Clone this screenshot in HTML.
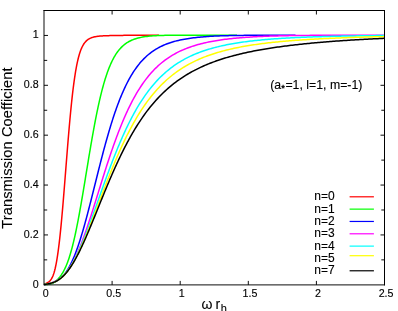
<!DOCTYPE html>
<html><head><meta charset="utf-8"><title>Transmission Coefficient</title>
<style>
html,body{margin:0;padding:0;background:#fff;}
body{width:398px;height:311px;overflow:hidden;font-family:"Liberation Sans",sans-serif;}
svg{display:block;}
text{font-family:"Liberation Sans",sans-serif;fill:#000;stroke:#000;stroke-width:0.12px;}
</style></head><body>
<svg width="398" height="311" viewBox="0 0 398 311" style="will-change:transform">
<rect width="398" height="311" fill="#fff"/>
<path d="M44.0,259.86h3.2M384.5,259.86h-3.2M44.0,234.93h4.0M384.5,234.93h-4.0M44.0,209.99h3.2M384.5,209.99h-3.2M44.0,185.06h4.0M384.5,185.06h-4.0M44.0,160.12h3.2M384.5,160.12h-3.2M44.0,135.18h4.0M384.5,135.18h-4.0M44.0,110.25h3.2M384.5,110.25h-3.2M44.0,85.31h4.0M384.5,85.31h-4.0M44.0,60.38h3.2M384.5,60.38h-3.2M44.0,35.44h4.0M112.10,284.9v-4.0M112.10,10.5v4.0M180.20,284.9v-4.0M180.20,10.5v4.0M248.30,284.9v-4.0M248.30,10.5v4.0M316.40,284.9v-4.0M316.40,10.5v4.0" stroke="#000" stroke-width="0.95" fill="none"/>
<g>
<polyline points="44.1,284.50 44.6,284.23 45.1,283.95 45.6,283.67 46.1,283.38 46.6,283.10 47.1,282.81 47.6,282.53 48.1,282.25 48.6,281.94 49.1,281.59 49.6,281.18 50.1,280.69 50.6,280.11 51.1,279.43 51.6,278.64 52.1,277.71 52.6,276.65 53.1,275.44 53.6,274.05 54.1,272.48 54.6,270.71 55.1,268.72 55.6,266.51 56.1,264.07 56.6,261.37 57.1,258.42 57.6,255.19 58.1,251.70 58.6,247.94 59.1,243.90 59.6,239.59 60.1,235.02 60.6,230.18 61.1,225.11 61.6,219.80 62.1,214.28 62.6,208.57 63.1,202.69 63.6,196.66 64.1,190.52 64.6,184.28 65.1,177.98 65.6,171.64 66.1,165.30 66.6,158.98 67.1,152.70 67.6,146.51 68.1,140.42 68.6,134.45 69.1,128.62 69.6,122.97 70.1,117.49 70.6,112.20 71.1,107.12 71.6,102.26 72.1,97.62 72.6,93.20 73.1,89.02 73.6,85.06 74.1,81.32 74.6,77.82 75.1,74.53 75.6,71.45 76.1,68.58 76.6,65.90 77.1,63.42 77.6,61.12 78.1,58.99 78.6,57.02 79.1,55.21 79.6,53.53 80.1,52.00 80.6,50.59 81.1,49.29 81.6,48.11 82.1,47.02 82.6,46.03 83.1,45.12 83.6,44.29 84.1,43.54 84.6,42.85 85.1,42.22 85.6,41.65 86.1,41.12 86.6,40.65 87.1,40.21 87.6,39.82 88.1,39.46 88.6,39.13 89.1,38.83 89.6,38.55 90.1,38.30 90.6,38.08 91.1,37.87 91.6,37.68 92.1,37.50 92.6,37.35 93.1,37.20 93.6,37.07 94.1,36.95 94.6,36.83 95.1,36.73 95.6,36.64 96.1,36.55 96.6,36.47 97.1,36.40 97.6,36.33 98.1,36.27 98.6,36.21 99.1,36.16 99.6,36.11 100.1,36.07 100.6,36.03 101.1,35.99 101.6,35.95 102.1,35.92 102.6,35.89 103.1,35.86 103.6,35.83 104.1,35.81 104.6,35.79 105.1,35.77 105.6,35.75 106.1,35.73 106.6,35.71 107.1,35.69 107.6,35.68 108.1,35.66 108.6,35.65 109.1,35.63 109.6,35.62 110.1,35.61 110.6,35.59 111.1,35.58 111.6,35.57 112.1,35.56 112.6,35.55 113.1,35.53 113.6,35.52 114.1,35.51 114.6,35.50 115.1,35.49 115.6,35.49 116.1,35.48 116.6,35.47 117.1,35.46 117.6,35.45 118.1,35.44 118.6,35.44 119.1,35.43 119.6,35.42 120.1,35.41 120.6,35.41 121.1,35.40 121.6,35.40 122.1,35.39 122.6,35.38 123.1,35.38 123.6,35.37 124.1,35.37 124.6,35.36 125.1,35.36 125.6,35.35 126.1,35.35 126.6,35.34 127.1,35.34 127.6,35.34 128.1,35.33 128.6,35.33 129.1,35.32 129.6,35.32 130.1,35.32 130.6,35.31 131.1,35.31 131.6,35.31 132.1,35.30 132.6,35.30 133.1,35.30 133.6,35.29 134.1,35.29 134.6,35.29 135.0,35.29 136.5,35.28 138.0,35.27 139.5,35.27 141.0,35.26 142.5,35.26 144.0,35.25 145.5,35.25 147.0,35.24 148.5,35.24 150.0,35.24 151.5,35.23 153.0,35.23 154.5,35.23 156.0,35.23 157.5,35.22 159.0,35.22" fill="none" stroke="#ff0000" stroke-width="1.5" stroke-linejoin="round" stroke-linecap="butt"/>
<polyline points="44.1,284.50 44.6,284.50 45.1,284.50 45.6,284.49 46.1,284.49 46.6,284.47 47.1,284.45 47.6,284.42 48.1,284.38 48.6,284.32 49.1,284.26 49.6,284.17 50.1,284.07 50.6,283.95 51.1,283.81 51.6,283.65 52.1,283.46 52.6,283.25 53.1,283.01 53.6,282.73 54.1,282.43 54.6,282.10 55.1,281.73 55.6,281.32 56.1,280.88 56.6,280.41 57.1,279.92 57.6,279.42 58.1,278.89 58.6,278.35 59.1,277.77 59.6,277.17 60.1,276.54 60.6,275.88 61.1,275.19 61.6,274.46 62.1,273.69 62.6,272.89 63.1,272.04 63.6,271.15 64.1,270.21 64.6,269.22 65.1,268.18 65.6,267.10 66.1,265.96 66.6,264.76 67.1,263.51 67.6,262.20 68.1,260.83 68.6,259.40 69.1,257.91 69.6,256.35 70.1,254.74 70.6,253.06 71.1,251.31 71.6,249.50 72.1,247.63 72.6,245.69 73.1,243.69 73.6,241.62 74.1,239.50 74.6,237.30 75.1,235.05 75.6,232.74 76.1,230.37 76.6,227.94 77.1,225.45 77.6,222.91 78.1,220.32 78.6,217.68 79.1,214.99 79.6,212.25 80.1,209.48 80.6,206.66 81.1,203.81 81.6,200.92 82.1,198.00 82.6,195.05 83.1,192.08 83.6,189.09 84.1,186.08 84.6,183.06 85.1,180.03 85.6,176.98 86.1,173.94 86.6,170.89 87.1,167.84 87.6,164.80 88.1,161.77 88.6,158.74 89.1,155.74 89.6,152.75 90.1,149.78 90.6,146.83 91.1,143.91 91.6,141.02 92.1,138.16 92.6,135.34 93.1,132.54 93.6,129.79 94.1,127.07 94.6,124.40 95.1,121.76 95.6,119.17 96.1,116.63 96.6,114.13 97.1,111.68 97.6,109.28 98.1,106.93 98.6,104.62 99.1,102.37 99.6,100.17 100.1,98.02 100.6,95.92 101.1,93.87 101.6,91.88 102.1,89.93 102.6,88.04 103.1,86.19 103.6,84.40 104.1,82.66 104.6,80.97 105.1,79.32 105.6,77.73 106.1,76.18 106.6,74.68 107.1,73.22 107.6,71.82 108.1,70.45 108.6,69.13 109.1,67.85 109.6,66.62 110.1,65.42 110.6,64.27 111.1,63.15 111.6,62.08 112.1,61.04 112.6,60.03 113.1,59.06 113.6,58.13 114.1,57.23 114.6,56.36 115.1,55.52 115.6,54.72 116.1,53.94 116.6,53.19 117.1,52.47 117.6,51.78 118.1,51.11 118.6,50.47 119.1,49.85 119.6,49.26 120.1,48.68 120.6,48.13 121.1,47.61 121.6,47.10 122.1,46.61 122.6,46.14 123.1,45.69 123.6,45.25 124.1,44.84 124.6,44.44 125.1,44.05 125.6,43.68 126.1,43.33 126.6,42.99 127.1,42.66 127.6,42.35 128.1,42.05 128.6,41.76 129.1,41.48 129.6,41.21 130.1,40.96 130.6,40.71 131.1,40.47 131.6,40.25 132.1,40.03 132.6,39.82 133.1,39.62 133.6,39.43 134.1,39.25 134.6,39.07 135.0,38.94 136.5,38.46 138.0,38.05 139.5,37.68 141.0,37.36 142.5,37.07 144.0,36.82 145.5,36.60 147.0,36.41 148.5,36.24 150.0,36.10 151.5,35.97 153.0,35.85 154.5,35.76 156.0,35.67 157.5,35.60 159.0,35.54 160.5,35.48 162.0,35.44 163.5,35.40 165.0,35.37 166.5,35.34 168.0,35.32 169.5,35.30 171.0,35.28 172.5,35.27 174.0,35.25 175.5,35.24 177.0,35.24 178.5,35.23 180.0,35.22 181.5,35.22 183.0,35.22 184.5,35.21 186.0,35.21 187.5,35.21 189.0,35.21 190.5,35.21 192.0,35.20 193.5,35.20 195.0,35.20 196.5,35.20 198.0,35.20 199.5,35.20 201.0,35.20 202.5,35.20 204.0,35.20 205.5,35.20 207.0,35.20 208.5,35.20 210.0,35.20 211.5,35.20 213.0,35.20 214.5,35.20 216.0,35.20 217.5,35.20 219.0,35.20 220.5,35.20 222.0,35.20 223.5,35.20 225.0,35.20 226.5,35.20 228.0,35.20 229.5,35.20 231.0,35.20 232.5,35.20 234.0,35.20 235.5,35.20 237.0,35.20" fill="none" stroke="#00ff00" stroke-width="1.5" stroke-linejoin="round" stroke-linecap="butt"/>
<polyline points="44.1,284.50 44.6,284.49 45.1,284.46 45.6,284.43 46.1,284.37 46.6,284.31 47.1,284.23 47.6,284.14 48.1,284.04 48.6,283.93 49.1,283.81 49.6,283.68 50.1,283.53 50.6,283.38 51.1,283.21 51.6,283.04 52.1,282.85 52.6,282.66 53.1,282.46 53.6,282.24 54.1,282.02 54.6,281.78 55.1,281.54 55.6,281.29 56.1,281.03 56.6,280.76 57.1,280.48 57.6,280.18 58.1,279.86 58.6,279.53 59.1,279.18 59.6,278.81 60.1,278.43 60.6,278.02 61.1,277.58 61.6,277.13 62.1,276.65 62.6,276.15 63.1,275.63 63.6,275.08 64.1,274.50 64.6,273.89 65.1,273.26 65.6,272.60 66.1,271.92 66.6,271.20 67.1,270.45 67.6,269.68 68.1,268.87 68.6,268.03 69.1,267.16 69.6,266.26 70.1,265.33 70.6,264.36 71.1,263.36 71.6,262.33 72.1,261.27 72.6,260.18 73.1,259.05 73.6,257.89 74.1,256.69 74.6,255.47 75.1,254.21 75.6,252.92 76.1,251.60 76.6,250.24 77.1,248.86 77.6,247.44 78.1,246.00 78.6,244.52 79.1,243.01 79.6,241.48 80.1,239.91 80.6,238.32 81.1,236.71 81.6,235.06 82.1,233.39 82.6,231.70 83.1,229.98 83.6,228.24 84.1,226.47 84.6,224.69 85.1,222.88 85.6,221.05 86.1,219.21 86.6,217.35 87.1,215.47 87.6,213.57 88.1,211.67 88.6,209.74 89.1,207.81 89.6,205.86 90.1,203.90 90.6,201.94 91.1,199.96 91.6,197.98 92.1,195.99 92.6,193.99 93.1,192.00 93.6,189.99 94.1,187.99 94.6,185.98 95.1,183.98 95.6,181.97 96.1,179.97 96.6,177.97 97.1,175.97 97.6,173.97 98.1,171.99 98.6,170.00 99.1,168.03 99.6,166.06 100.1,164.10 100.6,162.15 101.1,160.21 101.6,158.28 102.1,156.36 102.6,154.45 103.1,152.56 103.6,150.68 104.1,148.81 104.6,146.96 105.1,145.12 105.6,143.30 106.1,141.50 106.6,139.71 107.1,137.93 107.6,136.18 108.1,134.44 108.6,132.72 109.1,131.02 109.6,129.34 110.1,127.67 110.6,126.03 111.1,124.40 111.6,122.80 112.1,121.21 112.6,119.64 113.1,118.10 113.6,116.57 114.1,115.06 114.6,113.58 115.1,112.11 115.6,110.67 116.1,109.25 116.6,107.84 117.1,106.46 117.6,105.10 118.1,103.75 118.6,102.43 119.1,101.13 119.6,99.85 120.1,98.59 120.6,97.35 121.1,96.13 121.6,94.93 122.1,93.75 122.6,92.59 123.1,91.45 123.6,90.33 124.1,89.23 124.6,88.14 125.1,87.08 125.6,86.03 126.1,85.00 126.6,84.00 127.1,83.00 127.6,82.03 128.1,81.08 128.6,80.14 129.1,79.22 129.6,78.32 130.1,77.43 130.6,76.56 131.1,75.71 131.6,74.87 132.1,74.05 132.6,73.24 133.1,72.45 133.6,71.68 134.1,70.92 134.6,70.17 135.0,69.59 136.5,67.47 138.0,65.48 139.5,63.61 141.0,61.85 142.5,60.19 144.0,58.64 145.5,57.18 147.0,55.80 148.5,54.51 150.0,53.30 151.5,52.17 153.0,51.10 154.5,50.10 156.0,49.17 157.5,48.29 159.0,47.46 160.5,46.69 162.0,45.96 163.5,45.28 165.0,44.64 166.5,44.04 168.0,43.48 169.5,42.95 171.0,42.46 172.5,41.99 174.0,41.56 175.5,41.15 177.0,40.76 178.5,40.40 180.0,40.07 181.5,39.75 183.0,39.45 184.5,39.17 186.0,38.91 187.5,38.66 189.0,38.43 190.5,38.21 192.0,38.01 193.5,37.82 195.0,37.64 196.5,37.47 198.0,37.31 199.5,37.17 201.0,37.03 202.5,36.90 204.0,36.78 205.5,36.66 207.0,36.56 208.5,36.46 210.0,36.36 211.5,36.28 213.0,36.19 214.5,36.12 216.0,36.05 217.5,35.98 219.0,35.92 220.5,35.86 222.0,35.81 223.5,35.76 225.0,35.71 226.5,35.67 228.0,35.63 229.5,35.60 231.0,35.56 232.5,35.53 234.0,35.51 235.5,35.48 237.0,35.46 238.5,35.43 240.0,35.41 241.5,35.40 243.0,35.38 244.5,35.36 246.0,35.35 247.5,35.34 249.0,35.32 250.5,35.31 252.0,35.30 253.5,35.29 255.0,35.29 256.5,35.28 258.0,35.27 259.5,35.26 261.0,35.26 262.5,35.25 264.0,35.25 265.5,35.24 267.0,35.24 268.5,35.24 270.0,35.23 271.5,35.23 273.0,35.23 274.5,35.22 276.0,35.22 277.5,35.22 279.0,35.22 280.5,35.22 282.0,35.21 283.5,35.21 285.0,35.21 286.5,35.21 288.0,35.21 289.5,35.21 291.0,35.21 292.5,35.21 294.0,35.21 295.5,35.21" fill="none" stroke="#0000ff" stroke-width="1.5" stroke-linejoin="round" stroke-linecap="butt"/>
<polyline points="44.1,284.50 44.6,284.48 45.1,284.43 45.6,284.36 46.1,284.28 46.6,284.18 47.1,284.06 47.6,283.94 48.1,283.80 48.6,283.64 49.1,283.48 49.6,283.33 50.1,283.19 50.6,283.04 51.1,282.90 51.6,282.75 52.1,282.60 52.6,282.44 53.1,282.27 53.6,282.09 54.1,281.91 54.6,281.71 55.1,281.50 55.6,281.28 56.1,281.05 56.6,280.80 57.1,280.54 57.6,280.26 58.1,279.97 58.6,279.66 59.1,279.34 59.6,279.00 60.1,278.64 60.6,278.27 61.1,277.87 61.6,277.46 62.1,277.02 62.6,276.57 63.1,276.10 63.6,275.61 64.1,275.09 64.6,274.56 65.1,274.00 65.6,273.42 66.1,272.82 66.6,272.20 67.1,271.56 67.6,270.89 68.1,270.20 68.6,269.48 69.1,268.75 69.6,267.99 70.1,267.20 70.6,266.39 71.1,265.56 71.6,264.71 72.1,263.83 72.6,262.93 73.1,262.00 73.6,261.05 74.1,260.08 74.6,259.09 75.1,258.07 75.6,257.03 76.1,255.96 76.6,254.88 77.1,253.77 77.6,252.64 78.1,251.49 78.6,250.32 79.1,249.12 79.6,247.91 80.1,246.68 80.6,245.42 81.1,244.15 81.6,242.86 82.1,241.55 82.6,240.22 83.1,238.87 83.6,237.51 84.1,236.13 84.6,234.74 85.1,233.33 85.6,231.90 86.1,230.46 86.6,229.01 87.1,227.54 87.6,226.06 88.1,224.57 88.6,223.07 89.1,221.55 89.6,220.03 90.1,218.49 90.6,216.95 91.1,215.40 91.6,213.84 92.1,212.27 92.6,210.70 93.1,209.12 93.6,207.53 94.1,205.94 94.6,204.34 95.1,202.74 95.6,201.14 96.1,199.54 96.6,197.93 97.1,196.32 97.6,194.71 98.1,193.10 98.6,191.49 99.1,189.87 99.6,188.27 100.1,186.66 100.6,185.05 101.1,183.45 101.6,181.85 102.1,180.25 102.6,178.66 103.1,177.07 103.6,175.48 104.1,173.90 104.6,172.33 105.1,170.76 105.6,169.20 106.1,167.64 106.6,166.10 107.1,164.56 107.6,163.02 108.1,161.50 108.6,159.98 109.1,158.47 109.6,156.97 110.1,155.48 110.6,154.00 111.1,152.53 111.6,151.07 112.1,149.62 112.6,148.18 113.1,146.75 113.6,145.34 114.1,143.93 114.6,142.53 115.1,141.15 115.6,139.77 116.1,138.41 116.6,137.06 117.1,135.72 117.6,134.40 118.1,133.08 118.6,131.78 119.1,130.49 119.6,129.22 120.1,127.95 120.6,126.70 121.1,125.46 121.6,124.23 122.1,123.02 122.6,121.82 123.1,120.63 123.6,119.45 124.1,118.29 124.6,117.14 125.1,116.00 125.6,114.88 126.1,113.77 126.6,112.67 127.1,111.58 127.6,110.50 128.1,109.44 128.6,108.39 129.1,107.36 129.6,106.33 130.1,105.32 130.6,104.32 131.1,103.34 131.6,102.36 132.1,101.40 132.6,100.45 133.1,99.51 133.6,98.59 134.1,97.67 134.6,96.77 135.0,96.06 136.5,93.45 138.0,90.94 139.5,88.54 141.0,86.23 142.5,84.02 144.0,81.89 145.5,79.86 147.0,77.91 148.5,76.05 150.0,74.26 151.5,72.55 153.0,70.91 154.5,69.35 156.0,67.85 157.5,66.42 159.0,65.06 160.5,63.75 162.0,62.50 163.5,61.30 165.0,60.16 166.5,59.07 168.0,58.03 169.5,57.03 171.0,56.08 172.5,55.17 174.0,54.30 175.5,53.47 177.0,52.67 178.5,51.91 180.0,51.18 181.5,50.49 183.0,49.83 184.5,49.19 186.0,48.58 187.5,48.00 189.0,47.45 190.5,46.92 192.0,46.41 193.5,45.92 195.0,45.45 196.5,45.01 198.0,44.58 199.5,44.17 201.0,43.78 202.5,43.41 204.0,43.05 205.5,42.71 207.0,42.38 208.5,42.06 210.0,41.76 211.5,41.47 213.0,41.20 214.5,40.93 216.0,40.68 217.5,40.43 219.0,40.20 220.5,39.98 222.0,39.76 223.5,39.56 225.0,39.36 226.5,39.17 228.0,38.99 229.5,38.82 231.0,38.65 232.5,38.49 234.0,38.34 235.5,38.20 237.0,38.06 238.5,37.92 240.0,37.79 241.5,37.67 243.0,37.55 244.5,37.44 246.0,37.33 247.5,37.23 249.0,37.13 250.5,37.03 252.0,36.94 253.5,36.86 255.0,36.77 256.5,36.69 258.0,36.62 259.5,36.54 261.0,36.47 262.5,36.41 264.0,36.34 265.5,36.28 267.0,36.23 268.5,36.17 270.0,36.12 271.5,36.07 273.0,36.02 274.5,35.97 276.0,35.93 277.5,35.89 279.0,35.85 280.5,35.81 282.0,35.78 283.5,35.74 285.0,35.71 286.5,35.68 288.0,35.65 289.5,35.62 291.0,35.60 292.5,35.57 294.0,35.55 295.5,35.53 297.0,35.51 298.5,35.49 300.0,35.47 301.5,35.45 303.0,35.43 304.5,35.42 306.0,35.40 307.5,35.39 309.0,35.38 310.5,35.37 312.0,35.36 313.5,35.35 315.0,35.34 316.5,35.33 318.0,35.32 319.5,35.31 321.0,35.30 322.5,35.30 324.0,35.29 325.5,35.28 327.0,35.28 328.5,35.27 330.0,35.27 331.5,35.26 333.0,35.26 334.5,35.25 336.0,35.25 337.5,35.25 339.0,35.24 340.5,35.24 342.0,35.24 343.5,35.23 345.0,35.23 346.5,35.23 348.0,35.23 349.5,35.23 351.0,35.22 352.5,35.22 354.0,35.22 355.5,35.22 357.0,35.22 358.5,35.22 360.0,35.22 361.5,35.21 363.0,35.21 364.5,35.21 366.0,35.21 367.5,35.21 369.0,35.21 370.5,35.21 372.0,35.21 373.5,35.21 375.0,35.21 376.5,35.21 378.0,35.21 379.5,35.21 381.0,35.21 382.5,35.20 384.0,35.20 384.4,35.20" fill="none" stroke="#ff00ff" stroke-width="1.5" stroke-linejoin="round" stroke-linecap="butt"/>
<polyline points="44.1,284.50 44.6,284.40 45.1,284.30 45.6,284.20 46.1,284.10 46.6,284.01 47.1,283.91 47.6,283.82 48.1,283.72 48.6,283.63 49.1,283.53 49.6,283.43 50.1,283.33 50.6,283.21 51.1,283.09 51.6,282.95 52.1,282.81 52.6,282.65 53.1,282.49 53.6,282.31 54.1,282.12 54.6,281.91 55.1,281.69 55.6,281.46 56.1,281.21 56.6,280.95 57.1,280.67 57.6,280.38 58.1,280.07 58.6,279.75 59.1,279.41 59.6,279.05 60.1,278.67 60.6,278.28 61.1,277.87 61.6,277.44 62.1,276.99 62.6,276.53 63.1,276.04 63.6,275.53 64.1,275.01 64.6,274.47 65.1,273.90 65.6,273.32 66.1,272.72 66.6,272.09 67.1,271.45 67.6,270.79 68.1,270.11 68.6,269.40 69.1,268.68 69.6,267.94 70.1,267.17 70.6,266.39 71.1,265.59 71.6,264.77 72.1,263.92 72.6,263.06 73.1,262.18 73.6,261.28 74.1,260.37 74.6,259.43 75.1,258.47 75.6,257.50 76.1,256.51 76.6,255.50 77.1,254.47 77.6,253.43 78.1,252.37 78.6,251.29 79.1,250.20 79.6,249.09 80.1,247.96 80.6,246.82 81.1,245.67 81.6,244.50 82.1,243.32 82.6,242.12 83.1,240.91 83.6,239.69 84.1,238.45 84.6,237.20 85.1,235.95 85.6,234.68 86.1,233.40 86.6,232.11 87.1,230.81 87.6,229.50 88.1,228.18 88.6,226.85 89.1,225.51 89.6,224.17 90.1,222.82 90.6,221.46 91.1,220.10 91.6,218.73 92.1,217.35 92.6,215.97 93.1,214.59 93.6,213.20 94.1,211.81 94.6,210.41 95.1,209.01 95.6,207.61 96.1,206.20 96.6,204.80 97.1,203.39 97.6,201.98 98.1,200.57 98.6,199.16 99.1,197.75 99.6,196.34 100.1,194.93 100.6,193.52 101.1,192.12 101.6,190.71 102.1,189.31 102.6,187.91 103.1,186.51 103.6,185.12 104.1,183.72 104.6,182.34 105.1,180.95 105.6,179.57 106.1,178.20 106.6,176.83 107.1,175.46 107.6,174.10 108.1,172.74 108.6,171.39 109.1,170.05 109.6,168.71 110.1,167.38 110.6,166.05 111.1,164.73 111.6,163.42 112.1,162.12 112.6,160.82 113.1,159.53 113.6,158.25 114.1,156.97 114.6,155.70 115.1,154.44 115.6,153.19 116.1,151.95 116.6,150.71 117.1,149.49 117.6,148.27 118.1,147.06 118.6,145.86 119.1,144.67 119.6,143.48 120.1,142.31 120.6,141.14 121.1,139.99 121.6,138.84 122.1,137.70 122.6,136.57 123.1,135.45 123.6,134.34 124.1,133.24 124.6,132.15 125.1,131.07 125.6,130.00 126.1,128.94 126.6,127.88 127.1,126.84 127.6,125.81 128.1,124.78 128.6,123.77 129.1,122.76 129.6,121.76 130.1,120.78 130.6,119.80 131.1,118.83 131.6,117.88 132.1,116.93 132.6,115.99 133.1,115.06 133.6,114.14 134.1,113.23 134.6,112.33 135.0,111.61 136.5,108.99 138.0,106.44 139.5,103.98 141.0,101.59 142.5,99.29 144.0,97.06 145.5,94.90 147.0,92.82 148.5,90.81 150.0,88.87 151.5,86.99 153.0,85.18 154.5,83.44 156.0,81.76 157.5,80.13 159.0,78.57 160.5,77.06 162.0,75.61 163.5,74.20 165.0,72.85 166.5,71.55 168.0,70.30 169.5,69.09 171.0,67.93 172.5,66.81 174.0,65.73 175.5,64.69 177.0,63.69 178.5,62.72 180.0,61.79 181.5,60.89 183.0,60.03 184.5,59.20 186.0,58.40 187.5,57.63 189.0,56.88 190.5,56.16 192.0,55.47 193.5,54.81 195.0,54.16 196.5,53.54 198.0,52.95 199.5,52.37 201.0,51.82 202.5,51.28 204.0,50.76 205.5,50.27 207.0,49.79 208.5,49.32 210.0,48.87 211.5,48.44 213.0,48.02 214.5,47.62 216.0,47.23 217.5,46.86 219.0,46.49 220.5,46.14 222.0,45.80 223.5,45.47 225.0,45.16 226.5,44.85 228.0,44.56 229.5,44.27 231.0,43.99 232.5,43.73 234.0,43.47 235.5,43.22 237.0,42.97 238.5,42.74 240.0,42.51 241.5,42.29 243.0,42.08 244.5,41.88 246.0,41.68 247.5,41.48 249.0,41.30 250.5,41.11 252.0,40.94 253.5,40.77 255.0,40.60 256.5,40.44 258.0,40.29 259.5,40.14 261.0,39.99 262.5,39.85 264.0,39.71 265.5,39.58 267.0,39.45 268.5,39.33 270.0,39.21 271.5,39.09 273.0,38.97 274.5,38.86 276.0,38.76 277.5,38.65 279.0,38.55 280.5,38.45 282.0,38.35 283.5,38.26 285.0,38.17 286.5,38.08 288.0,38.00 289.5,37.92 291.0,37.84 292.5,37.76 294.0,37.68 295.5,37.61 297.0,37.54 298.5,37.47 300.0,37.40 301.5,37.33 303.0,37.27 304.5,37.21 306.0,37.15 307.5,37.09 309.0,37.03 310.5,36.98 312.0,36.92 313.5,36.87 315.0,36.82 316.5,36.77 318.0,36.72 319.5,36.68 321.0,36.63 322.5,36.59 324.0,36.54 325.5,36.50 327.0,36.46 328.5,36.42 330.0,36.38 331.5,36.35 333.0,36.31 334.5,36.28 336.0,36.24 337.5,36.21 339.0,36.18 340.5,36.15 342.0,36.12 343.5,36.09 345.0,36.06 346.5,36.03 348.0,36.00 349.5,35.98 351.0,35.95 352.5,35.93 354.0,35.90 355.5,35.88 357.0,35.86 358.5,35.83 360.0,35.81 361.5,35.79 363.0,35.77 364.5,35.75 366.0,35.73 367.5,35.72 369.0,35.70 370.5,35.68 372.0,35.66 373.5,35.65 375.0,35.63 376.5,35.62 378.0,35.60 379.5,35.59 381.0,35.57 382.5,35.56 384.0,35.55 384.4,35.54" fill="none" stroke="#00ffff" stroke-width="1.5" stroke-linejoin="round" stroke-linecap="butt"/>
<polyline points="44.1,284.50 44.6,284.40 45.1,284.30 45.6,284.21 46.1,284.11 46.6,284.02 47.1,283.93 47.6,283.84 48.1,283.74 48.6,283.65 49.1,283.56 49.6,283.47 50.1,283.37 50.6,283.25 51.1,283.13 51.6,283.00 52.1,282.85 52.6,282.70 53.1,282.53 53.6,282.35 54.1,282.16 54.6,281.95 55.1,281.73 55.6,281.50 56.1,281.25 56.6,280.99 57.1,280.71 57.6,280.42 58.1,280.11 58.6,279.79 59.1,279.45 59.6,279.09 60.1,278.72 60.6,278.33 61.1,277.92 61.6,277.49 62.1,277.05 62.6,276.59 63.1,276.11 63.6,275.61 64.1,275.10 64.6,274.57 65.1,274.01 65.6,273.44 66.1,272.85 66.6,272.24 67.1,271.62 67.6,270.97 68.1,270.31 68.6,269.63 69.1,268.93 69.6,268.21 70.1,267.47 70.6,266.71 71.1,265.94 71.6,265.15 72.1,264.34 72.6,263.51 73.1,262.66 73.6,261.80 74.1,260.92 74.6,260.03 75.1,259.11 75.6,258.18 76.1,257.24 76.6,256.28 77.1,255.30 77.6,254.31 78.1,253.30 78.6,252.28 79.1,251.24 79.6,250.19 80.1,249.13 80.6,248.05 81.1,246.96 81.6,245.86 82.1,244.74 82.6,243.62 83.1,242.48 83.6,241.33 84.1,240.17 84.6,238.99 85.1,237.81 85.6,236.62 86.1,235.42 86.6,234.21 87.1,232.99 87.6,231.76 88.1,230.53 88.6,229.29 89.1,228.04 89.6,226.78 90.1,225.52 90.6,224.25 91.1,222.98 91.6,221.70 92.1,220.41 92.6,219.12 93.1,217.83 93.6,216.54 94.1,215.24 94.6,213.93 95.1,212.63 95.6,211.32 96.1,210.01 96.6,208.70 97.1,207.39 97.6,206.07 98.1,204.76 98.6,203.44 99.1,202.13 99.6,200.81 100.1,199.50 100.6,198.18 101.1,196.87 101.6,195.56 102.1,194.25 102.6,192.94 103.1,191.64 103.6,190.34 104.1,189.04 104.6,187.74 105.1,186.45 105.6,185.15 106.1,183.87 106.6,182.59 107.1,181.31 107.6,180.03 108.1,178.76 108.6,177.50 109.1,176.24 109.6,174.98 110.1,173.73 110.6,172.49 111.1,171.25 111.6,170.02 112.1,168.79 112.6,167.57 113.1,166.35 113.6,165.14 114.1,163.94 114.6,162.75 115.1,161.56 115.6,160.38 116.1,159.20 116.6,158.03 117.1,156.87 117.6,155.72 118.1,154.57 118.6,153.43 119.1,152.30 119.6,151.18 120.1,150.06 120.6,148.95 121.1,147.85 121.6,146.76 122.1,145.68 122.6,144.60 123.1,143.53 123.6,142.47 124.1,141.42 124.6,140.37 125.1,139.34 125.6,138.31 126.1,137.29 126.6,136.28 127.1,135.27 127.6,134.28 128.1,133.29 128.6,132.31 129.1,131.34 129.6,130.38 130.1,129.42 130.6,128.48 131.1,127.54 131.6,126.61 132.1,125.69 132.6,124.78 133.1,123.87 133.6,122.98 134.1,122.09 134.6,121.21 135.0,120.51 136.5,117.94 138.0,115.44 139.5,113.01 141.0,110.66 142.5,108.37 144.0,106.15 145.5,103.99 147.0,101.91 148.5,99.88 150.0,97.92 151.5,96.02 153.0,94.18 154.5,92.40 156.0,90.68 157.5,89.01 159.0,87.39 160.5,85.83 162.0,84.31 163.5,82.85 165.0,81.43 166.5,80.06 168.0,78.74 169.5,77.46 171.0,76.22 172.5,75.02 174.0,73.86 175.5,72.74 177.0,71.65 178.5,70.60 180.0,69.59 181.5,68.61 183.0,67.66 184.5,66.74 186.0,65.85 187.5,64.99 189.0,64.16 190.5,63.35 192.0,62.57 193.5,61.82 195.0,61.09 196.5,60.38 198.0,59.70 199.5,59.04 201.0,58.40 202.5,57.78 204.0,57.17 205.5,56.59 207.0,56.03 208.5,55.48 210.0,54.95 211.5,54.44 213.0,53.94 214.5,53.46 216.0,52.99 217.5,52.54 219.0,52.10 220.5,51.67 222.0,51.25 223.5,50.85 225.0,50.46 226.5,50.08 228.0,49.72 229.5,49.36 231.0,49.01 232.5,48.68 234.0,48.35 235.5,48.03 237.0,47.72 238.5,47.42 240.0,47.13 241.5,46.85 243.0,46.57 244.5,46.30 246.0,46.04 247.5,45.79 249.0,45.54 250.5,45.30 252.0,45.07 253.5,44.84 255.0,44.62 256.5,44.40 258.0,44.19 259.5,43.99 261.0,43.79 262.5,43.60 264.0,43.41 265.5,43.22 267.0,43.04 268.5,42.87 270.0,42.70 271.5,42.53 273.0,42.37 274.5,42.21 276.0,42.06 277.5,41.91 279.0,41.76 280.5,41.61 282.0,41.47 283.5,41.34 285.0,41.20 286.5,41.07 288.0,40.95 289.5,40.82 291.0,40.70 292.5,40.58 294.0,40.47 295.5,40.35 297.0,40.24 298.5,40.13 300.0,40.03 301.5,39.92 303.0,39.82 304.5,39.72 306.0,39.63 307.5,39.53 309.0,39.44 310.5,39.35 312.0,39.26 313.5,39.18 315.0,39.09 316.5,39.01 318.0,38.93 319.5,38.85 321.0,38.77 322.5,38.69 324.0,38.62 325.5,38.55 327.0,38.48 328.5,38.41 330.0,38.34 331.5,38.27 333.0,38.20 334.5,38.14 336.0,38.08 337.5,38.02 339.0,37.96 340.5,37.90 342.0,37.84 343.5,37.78 345.0,37.73 346.5,37.67 348.0,37.62 349.5,37.57 351.0,37.52 352.5,37.46 354.0,37.42 355.5,37.37 357.0,37.32 358.5,37.27 360.0,37.23 361.5,37.18 363.0,37.14 364.5,37.10 366.0,37.06 367.5,37.02 369.0,36.97 370.5,36.94 372.0,36.90 373.5,36.86 375.0,36.82 376.5,36.79 378.0,36.75 379.5,36.71 381.0,36.68 382.5,36.65 384.0,36.61 384.4,36.61" fill="none" stroke="#ffff00" stroke-width="1.5" stroke-linejoin="round" stroke-linecap="butt"/>
<polyline points="44.1,284.50 44.6,284.42 45.1,284.33 45.6,284.24 46.1,284.15 46.6,284.06 47.1,283.96 47.6,283.87 48.1,283.78 48.6,283.68 49.1,283.59 49.6,283.49 50.1,283.38 50.6,283.27 51.1,283.15 51.6,283.01 52.1,282.87 52.6,282.71 53.1,282.54 53.6,282.36 54.1,282.17 54.6,281.97 55.1,281.75 55.6,281.52 56.1,281.27 56.6,281.01 57.1,280.74 57.6,280.45 58.1,280.14 58.6,279.82 59.1,279.49 59.6,279.13 60.1,278.76 60.6,278.38 61.1,277.98 61.6,277.56 62.1,277.12 62.6,276.67 63.1,276.20 63.6,275.71 64.1,275.20 64.6,274.68 65.1,274.14 65.6,273.58 66.1,273.00 66.6,272.41 67.1,271.79 67.6,271.16 68.1,270.52 68.6,269.85 69.1,269.17 69.6,268.47 70.1,267.75 70.6,267.01 71.1,266.26 71.6,265.49 72.1,264.71 72.6,263.90 73.1,263.08 73.6,262.25 74.1,261.40 74.6,260.53 75.1,259.65 75.6,258.75 76.1,257.84 76.6,256.92 77.1,255.98 77.6,255.02 78.1,254.05 78.6,253.07 79.1,252.08 79.6,251.07 80.1,250.05 80.6,249.01 81.1,247.97 81.6,246.91 82.1,245.85 82.6,244.77 83.1,243.68 83.6,242.58 84.1,241.48 84.6,240.36 85.1,239.23 85.6,238.10 86.1,236.96 86.6,235.81 87.1,234.65 87.6,233.48 88.1,232.31 88.6,231.13 89.1,229.95 89.6,228.76 90.1,227.56 90.6,226.36 91.1,225.16 91.6,223.95 92.1,222.73 92.6,221.52 93.1,220.30 93.6,219.07 94.1,217.85 94.6,216.62 95.1,215.39 95.6,214.16 96.1,212.92 96.6,211.69 97.1,210.45 97.6,209.22 98.1,207.98 98.6,206.75 99.1,205.51 99.6,204.28 100.1,203.04 100.6,201.81 101.1,200.58 101.6,199.35 102.1,198.12 102.6,196.90 103.1,195.67 103.6,194.45 104.1,193.23 104.6,192.02 105.1,190.81 105.6,189.60 106.1,188.40 106.6,187.20 107.1,186.00 107.6,184.81 108.1,183.62 108.6,182.44 109.1,181.26 109.6,180.08 110.1,178.91 110.6,177.75 111.1,176.59 111.6,175.44 112.1,174.29 112.6,173.15 113.1,172.01 113.6,170.88 114.1,169.76 114.6,168.64 115.1,167.53 115.6,166.42 116.1,165.32 116.6,164.23 117.1,163.14 117.6,162.06 118.1,160.99 118.6,159.93 119.1,158.87 119.6,157.81 120.1,156.77 120.6,155.73 121.1,154.70 121.6,153.67 122.1,152.66 122.6,151.65 123.1,150.64 123.6,149.65 124.1,148.66 124.6,147.68 125.1,146.71 125.6,145.74 126.1,144.78 126.6,143.83 127.1,142.89 127.6,141.95 128.1,141.02 128.6,140.10 129.1,139.18 129.6,138.28 130.1,137.38 130.6,136.49 131.1,135.60 131.6,134.72 132.1,133.85 132.6,132.99 133.1,132.13 133.6,131.29 134.1,130.45 134.6,129.61 135.0,128.95 136.5,126.51 138.0,124.13 139.5,121.82 141.0,119.57 142.5,117.38 144.0,115.25 145.5,113.18 147.0,111.17 148.5,109.22 150.0,107.32 151.5,105.48 153.0,103.68 154.5,101.95 156.0,100.26 157.5,98.62 159.0,97.03 160.5,95.48 162.0,93.98 163.5,92.52 165.0,91.11 166.5,89.74 168.0,88.41 169.5,87.12 171.0,85.86 172.5,84.64 174.0,83.46 175.5,82.31 177.0,81.20 178.5,80.12 180.0,79.07 181.5,78.05 183.0,77.06 184.5,76.09 186.0,75.16 187.5,74.25 189.0,73.37 190.5,72.51 192.0,71.68 193.5,70.87 195.0,70.08 196.5,69.31 198.0,68.57 199.5,67.84 201.0,67.14 202.5,66.45 204.0,65.79 205.5,65.14 207.0,64.51 208.5,63.89 210.0,63.29 211.5,62.71 213.0,62.14 214.5,61.59 216.0,61.05 217.5,60.53 219.0,60.01 220.5,59.52 222.0,59.03 223.5,58.56 225.0,58.09 226.5,57.64 228.0,57.20 229.5,56.77 231.0,56.35 232.5,55.94 234.0,55.54 235.5,55.15 237.0,54.77 238.5,54.40 240.0,54.04 241.5,53.68 243.0,53.33 244.5,52.99 246.0,52.66 247.5,52.34 249.0,52.02 250.5,51.71 252.0,51.40 253.5,51.11 255.0,50.81 256.5,50.53 258.0,50.25 259.5,49.98 261.0,49.71 262.5,49.45 264.0,49.19 265.5,48.94 267.0,48.69 268.5,48.45 270.0,48.21 271.5,47.98 273.0,47.75 274.5,47.53 276.0,47.31 277.5,47.10 279.0,46.89 280.5,46.68 282.0,46.48 283.5,46.28 285.0,46.08 286.5,45.89 288.0,45.70 289.5,45.52 291.0,45.33 292.5,45.16 294.0,44.98 295.5,44.81 297.0,44.64 298.5,44.47 300.0,44.31 301.5,44.15 303.0,43.99 304.5,43.84 306.0,43.69 307.5,43.54 309.0,43.39 310.5,43.24 312.0,43.10 313.5,42.96 315.0,42.82 316.5,42.69 318.0,42.55 319.5,42.42 321.0,42.29 322.5,42.17 324.0,42.04 325.5,41.92 327.0,41.80 328.5,41.68 330.0,41.56 331.5,41.45 333.0,41.33 334.5,41.22 336.0,41.11 337.5,41.01 339.0,40.90 340.5,40.79 342.0,40.69 343.5,40.59 345.0,40.49 346.5,40.39 348.0,40.29 349.5,40.20 351.0,40.11 352.5,40.01 354.0,39.92 355.5,39.83 357.0,39.74 358.5,39.66 360.0,39.57 361.5,39.49 363.0,39.41 364.5,39.32 366.0,39.24 367.5,39.16 369.0,39.09 370.5,39.01 372.0,38.93 373.5,38.86 375.0,38.79 376.5,38.72 378.0,38.65 379.5,38.58 381.0,38.51 382.5,38.44 384.0,38.37 384.4,38.36" fill="none" stroke="#000000" stroke-width="1.5" stroke-linejoin="round" stroke-linecap="butt"/>
</g>
<path d="M44.0,10.0V284.9M43.55,284.9H385.0" fill="none" stroke="#000" stroke-width="0.95"/>
<path d="M43.55,10.5H385.0M384.5,10.5V285.34999999999997" fill="none" stroke="#000" stroke-width="1"/>
<g font-size="10.7">
<text transform="translate(38.7,287.80) scale(1,1.1)" text-anchor="end">0</text>
<text transform="translate(38.7,237.93) scale(1,1.1)" text-anchor="end">0.2</text>
<text transform="translate(38.7,188.06) scale(1,1.1)" text-anchor="end">0.4</text>
<text transform="translate(38.7,138.18) scale(1,1.1)" text-anchor="end">0.6</text>
<text transform="translate(38.7,88.31) scale(1,1.1)" text-anchor="end">0.8</text>
<text transform="translate(38.7,38.44) scale(1,1.1)" text-anchor="end">1</text>
<text transform="translate(45.60,296.5) scale(1,1.1)" text-anchor="middle">0</text>
<text transform="translate(113.70,296.5) scale(1,1.1)" text-anchor="middle">0.5</text>
<text transform="translate(181.80,296.5) scale(1,1.1)" text-anchor="middle">1</text>
<text transform="translate(249.90,296.5) scale(1,1.1)" text-anchor="middle">1.5</text>
<text transform="translate(318.00,296.5) scale(1,1.1)" text-anchor="middle">2</text>
<text transform="translate(386.10,296.5) scale(1,1.1)" text-anchor="middle">2.5</text>
</g>
<g>
<text transform="translate(314.3,200.30) scale(1,1.06)" font-size="12">n=0</text>
<path d="M349.6,196.80H373.9" stroke="#ff0000" stroke-width="1.2" fill="none"/>
<text transform="translate(314.3,212.63) scale(1,1.06)" font-size="12">n=1</text>
<path d="M349.6,209.13H373.9" stroke="#00ff00" stroke-width="1.2" fill="none"/>
<text transform="translate(314.3,224.96) scale(1,1.06)" font-size="12">n=2</text>
<path d="M349.6,221.46H373.9" stroke="#0000ff" stroke-width="1.2" fill="none"/>
<text transform="translate(314.3,237.29) scale(1,1.06)" font-size="12">n=3</text>
<path d="M349.6,233.79H373.9" stroke="#ff00ff" stroke-width="1.2" fill="none"/>
<text transform="translate(314.3,249.62) scale(1,1.06)" font-size="12">n=4</text>
<path d="M349.6,246.12H373.9" stroke="#00ffff" stroke-width="1.2" fill="none"/>
<text transform="translate(314.3,261.95) scale(1,1.06)" font-size="12">n=5</text>
<path d="M349.6,255.70H373.9" stroke="#ffff00" stroke-width="1.2" fill="none"/>
<text transform="translate(314.3,274.28) scale(1,1.06)" font-size="12">n=7</text>
<path d="M349.6,270.78H373.9" stroke="#000000" stroke-width="1.2" fill="none"/>
</g>
<text transform="translate(270.2,89.0) scale(1,1.05)" font-size="12.3">(a<tspan font-size="9.5" stroke-width="0.35" dy="1.5" dx="0.2">*</tspan><tspan dy="-1.5" dx="0.4">=1, l=1, m=-1)</tspan></text>
<text transform="translate(11.8,148.0) rotate(-90)" text-anchor="middle" font-size="14.6" letter-spacing="0.1">Transmission Coefficient</text>
<text x="201.5" y="308.7" font-size="14">ω</text>
<text x="215.6" y="308.7" font-size="14">r</text>
<text x="220.8" y="312.1" font-size="11">h</text>
</svg>
</body></html>
